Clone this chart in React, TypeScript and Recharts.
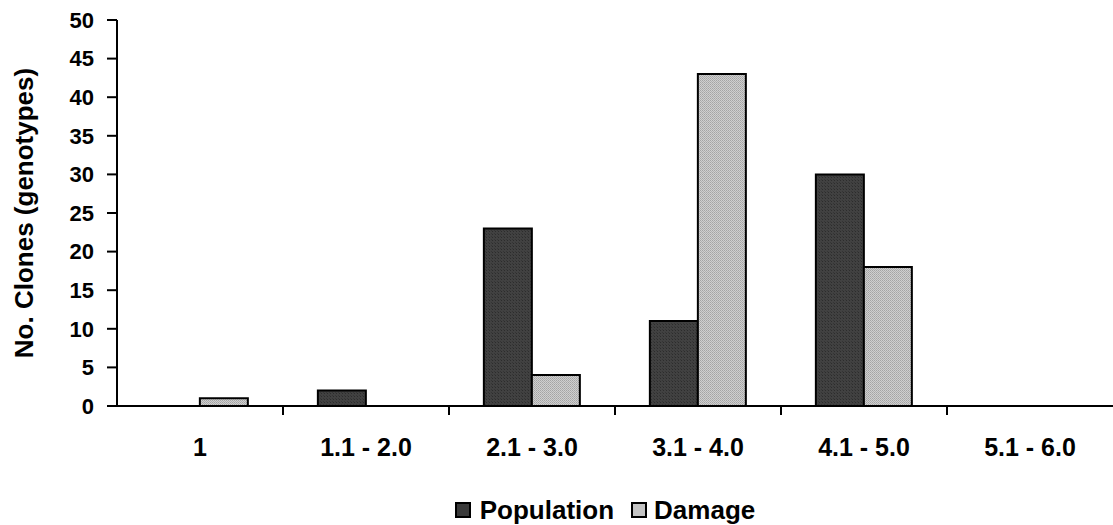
import React from 'react';
import { BarChart, Bar, XAxis, YAxis, Legend } from 'recharts';

// Score classes along the x axis
const classes = ['1', '1.1 - 2.0', '2.1 - 3.0', '3.1 - 4.0', '4.1 - 5.0', '5.1 - 6.0'];
// Number of clones per class
const population = [0, 2, 23, 11, 30, 0];
const damage = [1, 0, 4, 43, 18, 0];
const yTicks = [0, 5, 10, 15, 20, 25, 30, 35, 40, 45, 50];

const data = classes.map((name, i) => ({ name, population: population[i], damage: damage[i] }));

const FONT = '"Liberation Sans", Arial, sans-serif';

// x ticks sit on category boundaries, labels stay centred in each band
const BoundaryTick = (props: any) => {
  const { x, y, payload, index } = props;
  const half = payload && payload.offset ? payload.offset : 83;
  const left = x - half;
  return (
    <g>
      {index > 0 && <line x1={left} y1={y - 8} x2={left} y2={y + 1} stroke="#000" strokeWidth={2} />}
      <text
        x={x}
        y={y + 42}
        textAnchor="middle"
        fontFamily={FONT}
        fontWeight="bold"
        fontSize={25}
        fill="#000"
      >
        {payload.value}
      </text>
    </g>
  );
};

const LegendBox = () => (
  <div
    style={{
      display: 'flex',
      justifyContent: 'center',
      alignItems: 'center',
      fontFamily: FONT,
      fontWeight: 'bold',
      fontSize: 26,
      height: 40,
      paddingTop: 10,
      paddingLeft: 97,
      boxSizing: 'border-box',
    }}
  >
    <span style={{ display: 'inline-block', width: 12, height: 12, border: '2px solid #000', background: '#3a3a3a', marginRight: 9 }} />
    <span style={{ marginRight: 17 }}>Population</span>
    <span style={{ display: 'inline-block', width: 12, height: 12, border: '2px solid #000', background: '#c4c4c4', marginRight: 7 }} />
    <span>Damage</span>
  </div>
);

export default function App() {
  return (
    <div style={{ position: 'absolute', left: 0, top: 0, background: '#fff' }}>
      <BarChart
        width={1113}
        height={525}
        data={data}
        margin={{ top: 20, right: 0, left: 0, bottom: 0 }}
        barCategoryGap="21%"
        barGap={0}
      >
        <defs>
          <pattern id="darkFill" width="3" height="3" patternUnits="userSpaceOnUse">
            <rect width="3" height="3" fill="#414141" />
            <rect width="1" height="1" fill="#2c2c2c" />
            <rect x="2" y="2" width="1" height="1" fill="#353535" />
          </pattern>
          <pattern id="lightFill" width="2" height="2" patternUnits="userSpaceOnUse">
            <rect width="2" height="2" fill="#cfcfcf" />
            <rect width="1" height="1" fill="#a4a4a4" />
            <rect x="1" y="1" width="1" height="1" fill="#b0b0b0" />
          </pattern>
        </defs>
        <XAxis
          dataKey="name"
          height={79}
          interval={0}
          axisLine={{ stroke: '#000', strokeWidth: 2 }}
          tickLine={false}
          tick={<BoundaryTick />}
        />
        <YAxis
          width={117}
          domain={[0, 50]}
          ticks={yTicks}
          interval={0}
          axisLine={{ stroke: '#000', strokeWidth: 2 }}
          tickLine={{ stroke: '#000', strokeWidth: 2 }}
          tickSize={10}
          tickMargin={13}
          tick={{ fill: '#000', fontFamily: FONT, fontWeight: 'bold', fontSize: 22 }}
          label={{
            value: 'No. Clones (genotypes)',
            angle: -90,
            position: 'insideLeft',
            offset: 24,
            style: { textAnchor: 'middle', fill: '#000', fontFamily: FONT, fontWeight: 'bold', fontSize: 26 },
          }}
        />
        <Legend verticalAlign="bottom" height={40} content={<LegendBox />} />
        <Bar dataKey="population" name="Population" fill="url(#darkFill)" stroke="#000" strokeWidth={2} isAnimationActive={false} />
        <Bar dataKey="damage" name="Damage" fill="url(#lightFill)" stroke="#000" strokeWidth={2} isAnimationActive={false} />
      </BarChart>
    </div>
  );
}
